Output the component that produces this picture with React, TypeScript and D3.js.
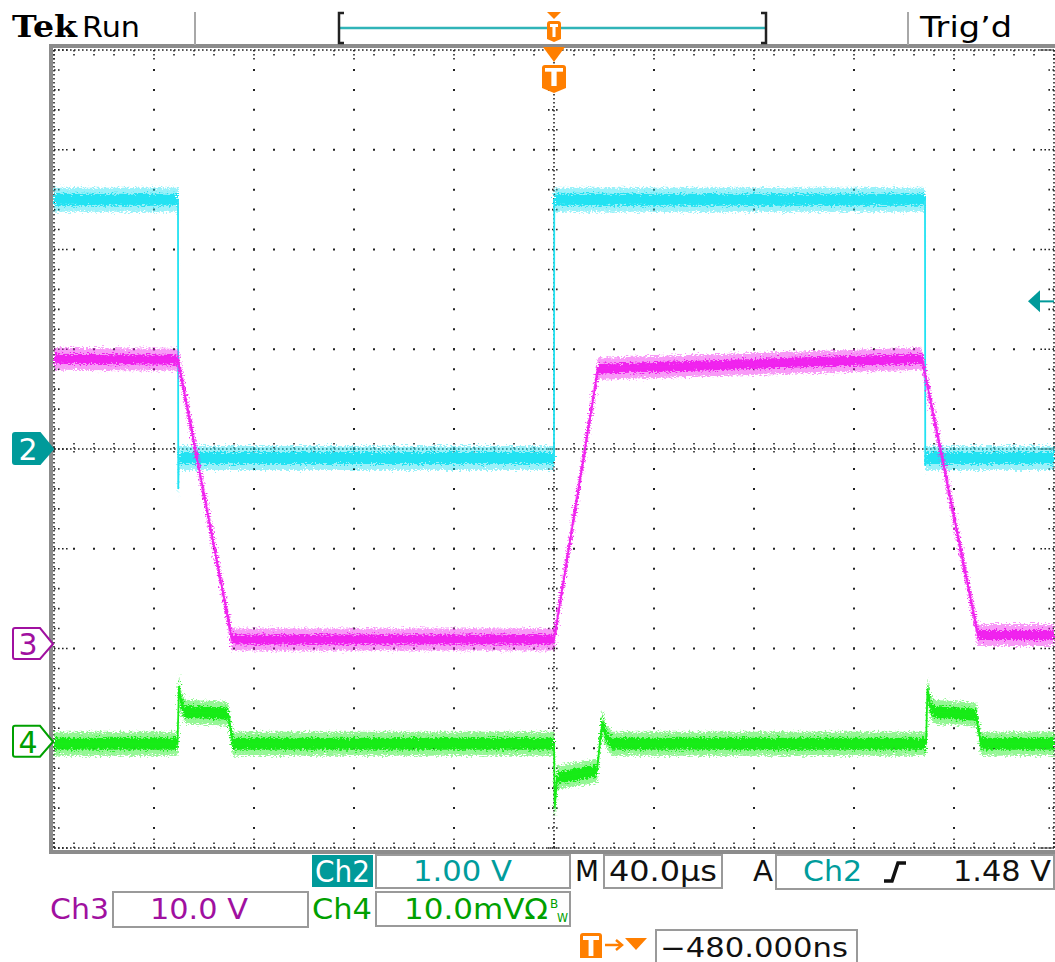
import React, { useEffect, useRef } from 'react'
import * as d3 from 'd3'

// time in µs (40 µs/div, trigger at centre), values in channel units
const ch2Time = [-200, -150.4, -150.3, -150.1, 0, 0.1, 148.4, 148.5, 148.7, 200]
const ch2Volts = [2.5, 2.5, -0.4, -0.09, -0.09, 2.5, 2.5, -0.16, -0.09, -0.09]

const ch3Time = [-200, -150.4, -128.8, 0, 17.6, 147.2, 169.6, 200]
const ch3Volts = [28.6, 28.5, 0.45, 0.45, 27.6, 28.6, 0.9, 0.9]

const ch4Time = [-200, -150.6, -150.0, -149.2, -147.6, -130.4, -128.4, 0, 0.3, 1.2, 17.2, 18.4, 19.4, 20.8, 23.2, 148.8, 149.4, 150.4, 152, 168.8, 170.8, 200]
const ch4mV = [-0.2, -0.2, 5.6, 4.0, 3.0, 2.8, -0.2, -0.2, -6.6, -3.6, -2.9, 0.0, 2.0, 0.6, -0.2, -0.2, 5.3, 3.6, 3.0, 2.7, -0.2, -0.2]

// channel settings: position (div) and scale (units/div)
const chPos = [0, -1.955, -2.935]
const chScale = [1, 10, 10]
const trigLevel = 1.48

const readoutRow1 = ['Ch2', '1.00 V', 'M', '40.0µs', 'A', 'Ch2', '1.48 V']
const readoutRow2 = ['Ch3', '10.0 V', 'Ch4', '10.0mVΩ']
const trigOffset = '−480.000ns'

const TEAL = '#009a9a'
const TEAL_TXT = '#009c9c'
const MAG_TXT = '#a010a0'
const GRN_TXT = '#00a000'
const ORANGE = '#ff7f00'
const FONT = 'DejaVu Sans, sans-serif'

function App() {
  const ref = useRef<SVGSVGElement>(null)

  useEffect(() => {
    const svg = d3.select(ref.current)
    svg.selectAll('*').remove()

    const x = d3.scaleLinear().domain([-200, 200]).range([54, 1054])
    const yDiv = d3.scaleLinear().domain([-4, 4]).range([848, 50])

    const defs = svg.append('defs')
    const f = defs.append('filter').attr('id', 'noise')
      .attr('filterUnits', 'userSpaceOnUse')
      .attr('x', 0).attr('y', 0).attr('width', 1055).attr('height', 962)
    f.append('feTurbulence').attr('type', 'fractalNoise')
      .attr('baseFrequency', '0.45 0.9').attr('numOctaves', 2).attr('seed', 3).attr('result', 't')
    f.append('feDisplacementMap').attr('in', 'SourceGraphic').attr('in2', 't')
      .attr('scale', 9).attr('xChannelSelector', 'R').attr('yChannelSelector', 'G')

    svg.append('rect').attr('width', 1055).attr('height', 962).attr('fill', '#fff')

    // ---------- graticule ----------
    const grid = svg.append('g')
    const xMajor = d3.range(-160, 200, 40).filter(d => d !== 0)
    const yMajor = d3.range(-3, 4, 1).filter(d => d !== 0)
    const xMinor = d3.range(-200, 200.1, 8)
    const yMinor = d3.range(-4, 4.01, 0.2)
    const dot = '#222'

    xMajor.forEach(t => {
      grid.append('line').attr('x1', x(t)).attr('x2', x(t)).attr('y1', yDiv(4)).attr('y2', yDiv(-4))
        .attr('stroke', dot).attr('stroke-width', 2).attr('stroke-dasharray', '2 17.95').attr('stroke-dashoffset', 1)
    })
    yMajor.forEach(d => {
      grid.append('line').attr('y1', yDiv(d)).attr('y2', yDiv(d)).attr('x1', x(-200)).attr('x2', x(200))
        .attr('stroke', dot).attr('stroke-width', 2).attr('stroke-dasharray', '2 18').attr('stroke-dashoffset', 1)
    })
    // centre lines
    grid.append('line').attr('x1', x(0)).attr('x2', x(0)).attr('y1', yDiv(4)).attr('y2', yDiv(-4))
      .attr('stroke', dot).attr('stroke-width', 1.6).attr('stroke-dasharray', '1.6 2.4')
    grid.append('line').attr('y1', yDiv(0)).attr('y2', yDiv(0)).attr('x1', x(-200)).attr('x2', x(200))
      .attr('stroke', dot).attr('stroke-width', 1.6).attr('stroke-dasharray', '1.6 2.4')
    yMinor.forEach(d => {
      grid.append('line').attr('x1', x(0) - 6).attr('x2', x(0) + 6).attr('y1', yDiv(d)).attr('y2', yDiv(d))
        .attr('stroke', dot).attr('stroke-width', 1.6).attr('stroke-dasharray', '1.6 2.4')
    })
    xMinor.forEach(t => {
      grid.append('line').attr('x1', x(t)).attr('x2', x(t)).attr('y1', yDiv(0) - 6).attr('y2', yDiv(0) + 6)
        .attr('stroke', dot).attr('stroke-width', 1.6).attr('stroke-dasharray', '1.6 2.4')
    })
    // border dotted edges and ticks
    const edges = [
      [x(-200), yDiv(4), x(200), yDiv(4)],
      [x(-200), yDiv(-4), x(200), yDiv(-4)],
      [x(-200), yDiv(4), x(-200), yDiv(-4)],
      [x(200), yDiv(4), x(200), yDiv(-4)]
    ]
    edges.forEach(e => {
      grid.append('line').attr('x1', e[0]).attr('y1', e[1]).attr('x2', e[2]).attr('y2', e[3])
        .attr('stroke', dot).attr('stroke-width', 1.6).attr('stroke-dasharray', '1.6 2.4')
    })
    xMinor.forEach((t, i) => {
      const len = i % 5 === 0 ? 12 : 6
      grid.append('line').attr('x1', x(t)).attr('x2', x(t)).attr('y1', yDiv(4)).attr('y2', yDiv(4) + len)
        .attr('stroke', dot).attr('stroke-width', 1.6).attr('stroke-dasharray', '1.6 2.4')
      grid.append('line').attr('x1', x(t)).attr('x2', x(t)).attr('y1', yDiv(-4)).attr('y2', yDiv(-4) - len)
        .attr('stroke', dot).attr('stroke-width', 1.6).attr('stroke-dasharray', '1.6 2.4')
    })
    yMinor.forEach((d, i) => {
      const len = i % 5 === 0 ? 14 : 8
      grid.append('line').attr('x1', x(-200)).attr('x2', x(-200) + len).attr('y1', yDiv(d)).attr('y2', yDiv(d))
        .attr('stroke', dot).attr('stroke-width', 1.6).attr('stroke-dasharray', '1.6 2.4')
      grid.append('line').attr('x1', x(200)).attr('x2', x(200) - len).attr('y1', yDiv(d)).attr('y2', yDiv(d))
        .attr('stroke', dot).attr('stroke-width', 1.6).attr('stroke-dasharray', '1.6 2.4')
    })

    // ---------- traces ----------
    const traces = [
      { t: ch2Time, v: ch2Volts, ch: 0, color: '#22e2f2', outer: 12, inner: 6 },
      { t: ch3Time, v: ch3Volts, ch: 1, color: '#f024ee', outer: 11, inner: 5 },
      { t: ch4Time, v: ch4mV, ch: 2, color: '#18ec18', outer: 12, inner: 6 }
    ]
    traces.forEach(tr => {
      const pts = tr.t.map((t, i) => [t, tr.v[i]] as [number, number])
      const y = (v: number) => yDiv(chPos[tr.ch] + v / chScale[tr.ch])
      const band = (a: number) => d3.area<[number, number]>()
        .x(d => x(d[0])).y0(d => y(d[1]) + a).y1(d => y(d[1]) - a)
      const g = svg.append('g')
      g.append('path').attr('d', band(tr.outer)(pts)).attr('fill', tr.color)
        .attr('opacity', 0.45).attr('filter', 'url(#noise)')
      g.append('path').attr('d', band(tr.inner)(pts)).attr('fill', tr.color)
        .attr('filter', 'url(#noise)')
      g.append('path').attr('d', d3.line<[number, number]>().x(d => x(d[0])).y(d => y(d[1]))(pts))
        .attr('fill', 'none').attr('stroke', tr.color).attr('stroke-width', 1.8)
    })

    // ---------- frame ----------
    svg.append('rect').attr('x', 51).attr('y', 46).attr('width', 1010).attr('height', 806)
      .attr('fill', 'none').attr('stroke', '#8c8c8c').attr('stroke-width', 4)

    // ---------- top bar ----------
    const top = svg.append('g')
    top.append('text').text('Tek').attr('x', 12).attr('y', 37)
      .attr('font-family', 'DejaVu Serif, serif').attr('font-weight', 'bold').attr('font-size', 30)
      .attr('textLength', 65).attr('lengthAdjust', 'spacingAndGlyphs')
    top.append('text').text('Run').attr('x', 82).attr('y', 37)
      .attr('font-family', FONT).attr('font-size', 29).attr('textLength', 58).attr('lengthAdjust', 'spacingAndGlyphs')
    top.append('text').text('Trig’d').attr('x', 920).attr('y', 37)
      .attr('font-family', FONT).attr('font-size', 29).attr('textLength', 92).attr('lengthAdjust', 'spacingAndGlyphs')
    ;[195, 908].forEach(px => {
      top.append('line').attr('x1', px).attr('x2', px).attr('y1', 12).attr('y2', 45)
        .attr('stroke', '#a8a8a8').attr('stroke-width', 2)
    })
    top.append('line').attr('x1', 340).attr('x2', 765).attr('y1', 28).attr('y2', 28)
      .attr('stroke', '#30b4b8').attr('stroke-width', 2.5)
    top.append('path').attr('d', 'M344,13 L339,13 L339,43 L344,43')
      .attr('fill', 'none').attr('stroke', '#222').attr('stroke-width', 2.5)
    top.append('path').attr('d', 'M761,13 L766,13 L766,43 L761,43')
      .attr('fill', 'none').attr('stroke', '#222').attr('stroke-width', 2.5)

    const tIcon = (g: any, cx: number, y0: number, w: number, h: number, point: number) => {
      const l = cx - w / 2, r = cx + w / 2
      g.append('path')
        .attr('d', `M${l},${y0 + 3} Q${l},${y0} ${l + 3},${y0} L${r - 3},${y0} Q${r},${y0} ${r},${y0 + 3} L${r},${y0 + h} L${cx},${y0 + h + point} L${l},${y0 + h} Z`)
        .attr('fill', ORANGE)
      g.append('rect').attr('x', l + 3).attr('y', y0 + 3).attr('width', w - 6).attr('height', Math.max(3, h * 0.16)).attr('fill', '#fff')
      g.append('rect').attr('x', cx - w * 0.11).attr('y', y0 + 3).attr('width', w * 0.22).attr('height', h - 5).attr('fill', '#fff')
    }
    const tx = x(0)
    top.append('path').attr('d', `M${tx - 7},12 L${tx + 7},12 L${tx},19 Z`).attr('fill', ORANGE)
    tIcon(top, tx, 21, 14, 18, 3)

    svg.append('path').attr('d', `M${tx - 11},47 L${tx + 11},47 L${tx},62 Z`).attr('fill', ORANGE)
    tIcon(svg, tx, 65, 24, 23, 5)

    // trigger level arrow on the right
    const ty = yDiv(chPos[0] + trigLevel / chScale[0])
    svg.append('path').attr('d', `M1028,${ty} L1040,${ty - 11} L1040,${ty + 11} Z`).attr('fill', TEAL)
    svg.append('line').attr('x1', 1038).attr('x2', 1054).attr('y1', ty).attr('y2', ty)
      .attr('stroke', TEAL).attr('stroke-width', 2)

    // channel ground markers
    const markers = [
      { label: '2', ch: 0, fill: TEAL, stroke: TEAL, txt: '#fff' },
      { label: '3', ch: 1, fill: '#fff', stroke: MAG_TXT, txt: MAG_TXT },
      { label: '4', ch: 2, fill: '#fff', stroke: GRN_TXT, txt: GRN_TXT }
    ]
    markers.forEach(m => {
      const my = yDiv(chPos[m.ch])
      svg.append('path')
        .attr('d', `M15,${my - 16} L40,${my - 16} L53,${my} L40,${my + 15} L15,${my + 15} Q13,${my + 15} 13,${my + 13} L13,${my - 14} Q13,${my - 16} 15,${my - 16} Z`)
        .attr('fill', m.fill).attr('stroke', m.stroke).attr('stroke-width', 2)
      svg.append('text').text(m.label).attr('x', 28).attr('y', my + 11).attr('text-anchor', 'middle')
        .attr('font-family', FONT).attr('font-size', 30).attr('fill', m.txt)
    })

    // ---------- readouts ----------
    const ro = svg.append('g').attr('font-family', FONT)
    const box = (bx: number, by: number, w: number, h: number) =>
      ro.append('rect').attr('x', bx).attr('y', by).attr('width', w).attr('height', h)
        .attr('fill', 'none').attr('stroke', '#9a9a9a').attr('stroke-width', 2)
    const label = (s: string, lx: number, ly: number, w: number, color: string, size = 28) =>
      ro.append('text').text(s).attr('x', lx).attr('y', ly).attr('fill', color).attr('font-size', size)
        .attr('textLength', w).attr('lengthAdjust', 'spacingAndGlyphs')

    ro.append('rect').attr('x', 312).attr('y', 855).attr('width', 61).attr('height', 32).attr('fill', TEAL)
    label(readoutRow1[0], 315, 882, 55, '#fff', 30)
    box(376, 855, 194, 33)
    label(readoutRow1[1], 413, 881, 99, TEAL_TXT)
    label(readoutRow1[2], 575, 881, 24, '#111')
    box(604, 855, 118, 33)
    label(readoutRow1[3], 609, 881, 108, '#111')
    label(readoutRow1[4], 753, 881, 20, '#111')
    ro.append('path').attr('d', 'M776,855 L1054,855 L1054,889 L776,889 Z')
      .attr('fill', 'none').attr('stroke', '#9a9a9a').attr('stroke-width', 2)
    label(readoutRow1[5], 803, 881, 59, TEAL_TXT)
    ro.append('path').attr('d', 'M884,881 L892,881 L898,863 L906,863')
      .attr('fill', 'none').attr('stroke', '#111').attr('stroke-width', 3.5)
    label(readoutRow1[6], 953, 881, 98, '#111')

    label(readoutRow2[0], 50, 919, 59, MAG_TXT)
    box(113, 892, 195, 35)
    label(readoutRow2[1], 150, 919, 98, MAG_TXT)
    label(readoutRow2[2], 312, 919, 60, GRN_TXT)
    box(376, 892, 194, 34)
    label(readoutRow2[3], 404, 919, 144, GRN_TXT)
    ro.append('text').text('B').attr('x', 550).attr('y', 908).attr('font-size', 12).attr('fill', GRN_TXT)
    ro.append('text').text('W').attr('x', 557).attr('y', 922).attr('font-size', 12).attr('fill', GRN_TXT)
      .attr('textLength', 11).attr('lengthAdjust', 'spacingAndGlyphs')

    tIcon(ro, 591, 933, 22, 25, 0)
    ro.append('line').attr('x1', 605).attr('x2', 620).attr('y1', 945).attr('y2', 945)
      .attr('stroke', ORANGE).attr('stroke-width', 2.5)
    ro.append('path').attr('d', 'M616,940 L622,945 L616,950').attr('fill', 'none')
      .attr('stroke', ORANGE).attr('stroke-width', 2.5)
    ro.append('path').attr('d', 'M625,938 L647,938 L636,950 Z').attr('fill', ORANGE)
    ro.append('path').attr('d', 'M656,962 L656,930 L857,930 L857,962')
      .attr('fill', 'none').attr('stroke', '#9a9a9a').attr('stroke-width', 2)
    label(trigOffset, 660, 957, 188, '#111', 27)
  }, [])

  return (
    <svg ref={ref} width={1055} height={962}
      style={{ position: 'absolute', left: 0, top: 0, display: 'block' }} />
  )
}

export default App
